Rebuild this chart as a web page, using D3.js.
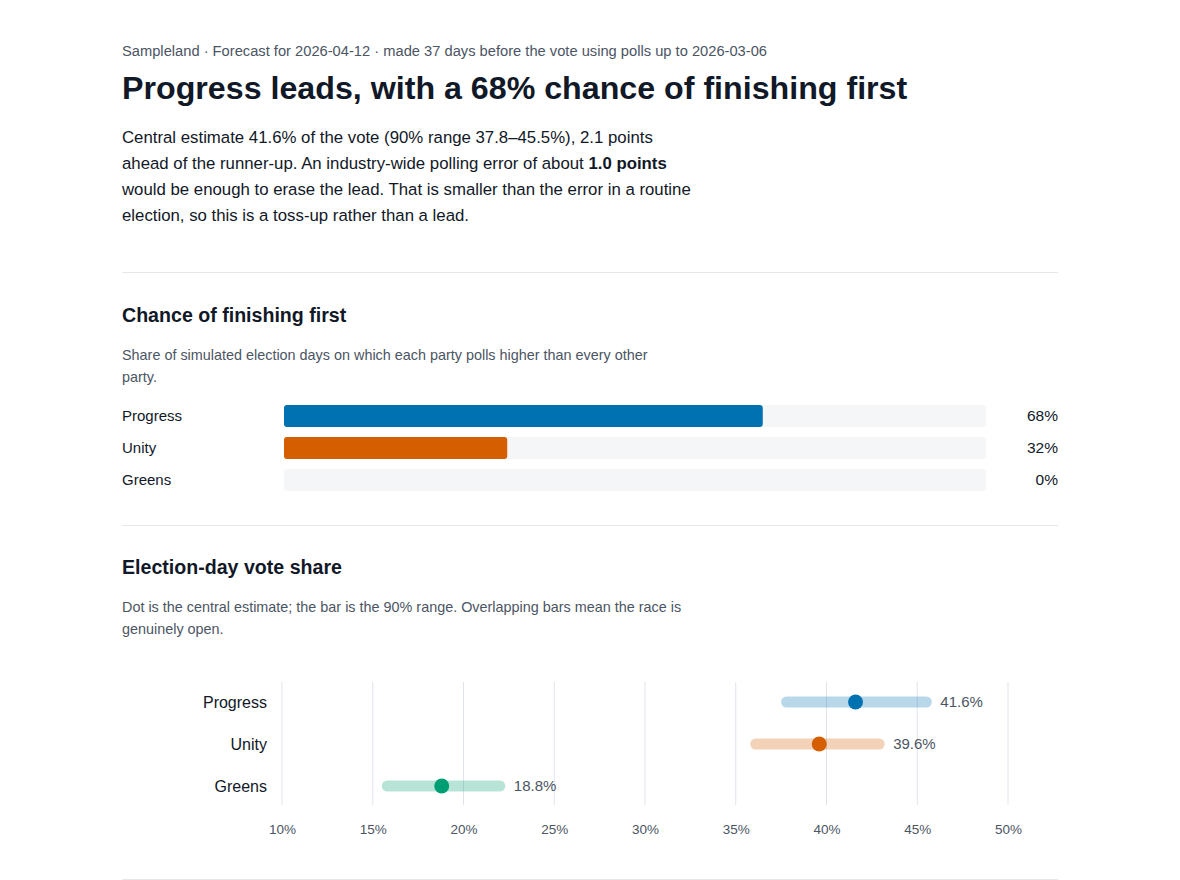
<!DOCTYPE html>
<html>
<head>
<meta charset="utf-8">
<script src="https://cdn.jsdelivr.net/npm/d3@7"></script>
<style>
  body { margin: 0; background: #fff; font-family: "Liberation Sans", Arial, Helvetica, sans-serif; color: #111827; }
  .wrap { margin-left: 122px; width: 936px; }
  .meta { margin-top: 41px; font-size: 14.7px; line-height: 20px; color: #4b5563; }
  h1 { margin: 7px 0 0 0; font-size: 32.2px; line-height: 40px; font-weight: 700; }
  .lede { margin: 17px 0 0 0; font-size: 16.8px; line-height: 26px; max-width: 620px; }
  .rule { border-top: 1px solid #e5e7eb; height: 0; }
  h2 { margin: 0; font-size: 19.6px; line-height: 28px; font-weight: 700; }
  .sub { margin: 15px 0 0 0; font-size: 14.4px; line-height: 22px; color: #4b5563; max-width: 620px; }
  svg { display: block; }
</style>
</head>
<body>
<div class="wrap">
  <div class="meta">Sampleland · Forecast for 2026-04-12 · made 37 days before the vote using polls up to 2026-03-06</div>
  <h1>Progress leads, with a 68% chance of finishing first</h1>
  <p class="lede">Central estimate 41.6% of the vote (90% range 37.8–45.5%), 2.1 points<br>ahead of the runner-up. An industry-wide polling error of about <b>1.0 points</b><br>would be enough to erase the lead. That is smaller than the error in a routine<br>election, so this is a toss-up rather than a lead.</p>
  <div class="rule" style="margin-top:43px"></div>
  <h2 style="margin-top:28px">Chance of finishing first</h2>
  <p class="sub">Share of simulated election days on which each party polls higher than every other<br>party.</p>
  <div id="win"></div>
  <div class="rule"></div>
  <h2 style="margin-top:27px">Election-day vote share</h2>
  <p class="sub">Dot is the central estimate; the bar is the 90% range. Overlapping bars mean the race is<br>genuinely open.</p>
  <div id="share"></div>
  <div class="rule"></div>
</div>
<script>
// data
const parties = ["Progress", "Unity", "Greens"];
const winChance = [68.2, 31.8, 0];
const voteCentral = [41.6, 39.6, 18.8];
const voteLow = [37.8, 36.1, 15.8];
const voteHigh = [45.5, 42.9, 22.0];
const partyColors = ["#0072b2", "#d55e00", "#009e73"];
const shareTicks = [10, 15, 20, 25, 30, 35, 40, 45, 50];

const fullWidth = 936;

// ---- chance of finishing first ----
{
  const height = 137;
  const svg = d3.select("#win").append("svg")
    .attr("width", fullWidth)
    .attr("height", height);

  const x = d3.scaleLinear().domain([0, 100]).range([162, 864]);
  const y = d3.scaleBand().domain(parties).range([12, 108]).paddingInner(10 / 32).paddingOuter(5 / 32);

  const rows = svg.selectAll(".row")
    .data(parties)
    .enter().append("g")
    .attr("class", "row");

  rows.append("text")
    .attr("x", 0)
    .attr("y", d => y(d) + y.bandwidth() / 2)
    .attr("dy", "0.35em")
    .attr("font-size", 15)
    .attr("fill", "#111827")
    .text(d => d);

  // track
  rows.append("rect")
    .attr("x", x(0))
    .attr("y", d => y(d))
    .attr("width", x(100) - x(0))
    .attr("height", y.bandwidth())
    .attr("rx", 3)
    .attr("fill", "#f5f6f8");

  rows.append("rect")
    .attr("x", x(0))
    .attr("y", d => y(d))
    .attr("width", (d, i) => x(winChance[i]) - x(0))
    .attr("height", y.bandwidth())
    .attr("rx", 3)
    .attr("fill", (d, i) => partyColors[i]);

  rows.append("text")
    .attr("x", fullWidth)
    .attr("y", d => y(d) + y.bandwidth() / 2)
    .attr("dy", "0.35em")
    .attr("text-anchor", "end")
    .attr("font-size", 15.5)
    .attr("fill", "#111827")
    .text((d, i) => Math.round(winChance[i]) + "%");
}

// ---- election-day vote share ----
{
  const height = 239;
  const svg = d3.select("#share").append("svg")
    .attr("width", fullWidth)
    .attr("height", height);

  const x = d3.scaleLinear().domain([10, 50]).range([160, 886]);
  const y = d3.scalePoint().domain(parties).range([62, 146]);

  // gridlines
  svg.selectAll(".grid")
    .data(shareTicks)
    .enter().append("line")
    .attr("class", "grid")
    .attr("x1", d => x(d))
    .attr("x2", d => x(d))
    .attr("y1", 42)
    .attr("y2", 165)
    .attr("stroke", "#dfe4ec")
    .attr("stroke-width", 1);

  // axis labels
  const xAxis = d3.axisBottom(x)
    .tickValues(shareTicks)
    .tickSize(0)
    .tickPadding(0)
    .tickFormat(d => d + "%");

  const axisG = svg.append("g")
    .attr("transform", "translate(0,184)")
    .call(xAxis);
  axisG.select(".domain").remove();
  axisG.selectAll("text")
    .attr("font-family", "Liberation Sans, Arial, sans-serif")
    .attr("font-size", 13.5)
    .attr("fill", "#4b5563");

  const rows = svg.selectAll(".prow")
    .data(parties)
    .enter().append("g")
    .attr("class", "prow");

  rows.append("text")
    .attr("x", 145)
    .attr("y", d => y(d))
    .attr("dy", "0.35em")
    .attr("text-anchor", "end")
    .attr("font-size", 16)
    .attr("fill", "#111827")
    .text(d => d);

  // 90% range
  rows.append("line")
    .attr("x1", (d, i) => x(voteLow[i]))
    .attr("x2", (d, i) => x(voteHigh[i]))
    .attr("y1", d => y(d))
    .attr("y2", d => y(d))
    .attr("stroke", (d, i) => partyColors[i])
    .attr("stroke-opacity", 0.28)
    .attr("stroke-width", 11)
    .attr("stroke-linecap", "round");

  rows.append("circle")
    .attr("cx", (d, i) => x(voteCentral[i]))
    .attr("cy", d => y(d))
    .attr("r", 7.5)
    .attr("fill", (d, i) => partyColors[i]);

  rows.append("text")
    .attr("x", (d, i) => x(voteHigh[i]) + 14)
    .attr("y", d => y(d))
    .attr("dy", "0.35em")
    .attr("font-size", 15)
    .attr("fill", "#4b5563")
    .text((d, i) => voteCentral[i].toFixed(1) + "%");
}
</script>
</body>
</html>
